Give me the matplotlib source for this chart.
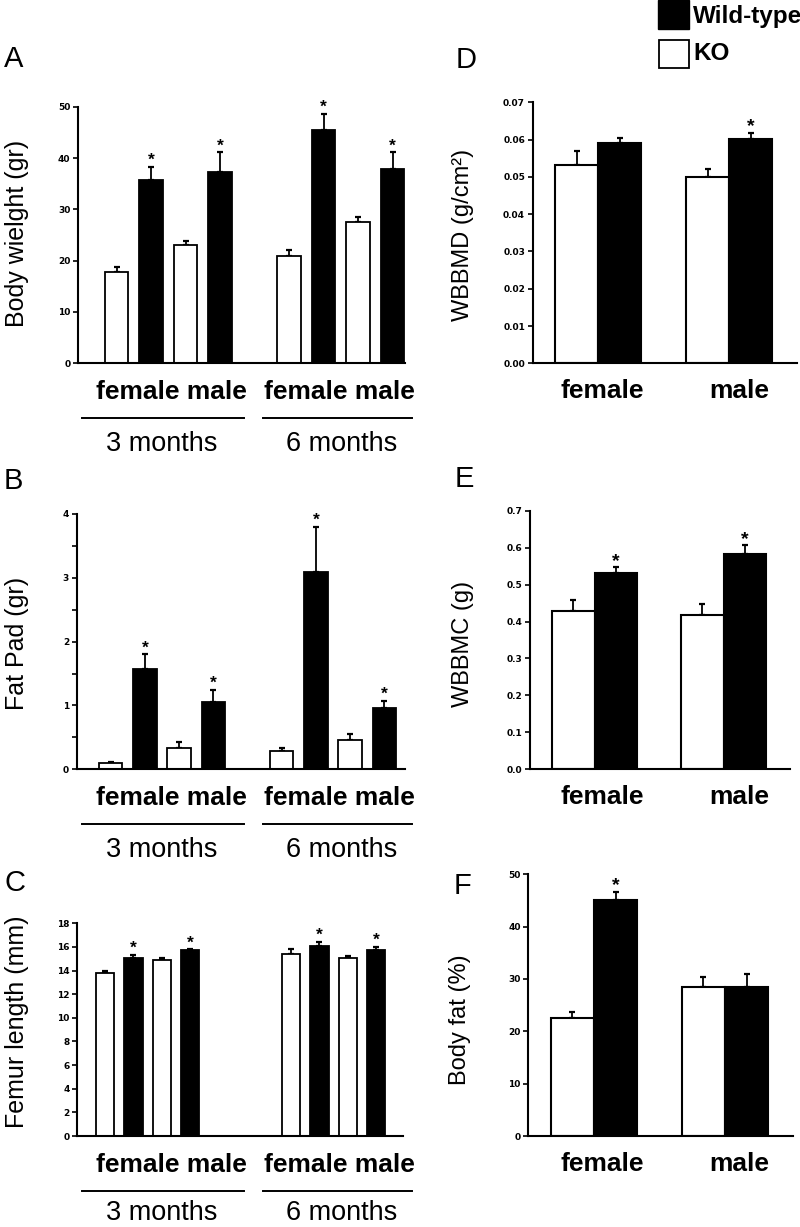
import numpy as np
import matplotlib
matplotlib.use("Agg")
import matplotlib.pyplot as plt
from matplotlib.patches import Rectangle
from matplotlib.lines import Line2D
from matplotlib.ticker import MultipleLocator

plt.rcParams["font.family"] = ["Liberation Sans", "DejaVu Sans"]

W, H = 800, 1227

# left column: order is female 3mo, male 3mo, female 6mo, male 6mo
ko_weight = [17.7, 23.0, 20.9, 27.6]
ko_weight_sem = [1.0, 0.8, 1.2, 1.0]
wt_weight = [35.7, 37.3, 45.5, 37.8]
wt_weight_sem = [2.5, 3.8, 3.1, 3.3]
wt_weight_sig = [True, True, True, True]

ko_fatpad = [0.10, 0.34, 0.29, 0.46]
ko_fatpad_sem = [0.01, 0.08, 0.05, 0.09]
wt_fatpad = [1.57, 1.05, 3.09, 0.96]
wt_fatpad_sem = [0.23, 0.20, 0.71, 0.11]
wt_fatpad_sig = [True, True, True, True]

ko_femur = [13.8, 14.86, 15.4, 15.06]
ko_femur_sem = [0.2, 0.2, 0.4, 0.15]
wt_femur = [15.1, 15.7, 16.05, 15.76]
wt_femur_sem = [0.2, 0.1, 0.35, 0.25]
wt_femur_sig = [True, True, True, True]

# right column: female, male
sexes = ["female", "male"]
ko_bmd = [0.0531, 0.0499]
ko_bmd_sem = [0.0039, 0.0021]
wt_bmd = [0.0591, 0.0601]
wt_bmd_sem = [0.0013, 0.0018]
wt_bmd_sig = [False, True]

ko_bmc = [0.428, 0.419]
ko_bmc_sem = [0.030, 0.028]
wt_bmc = [0.532, 0.582]
wt_bmc_sem = [0.015, 0.025]
wt_bmc_sig = [True, True]

ko_bodyfat = [22.5, 28.4]
ko_bodyfat_sem = [1.1, 1.9]
wt_bodyfat = [45.1, 28.5]
wt_bodyfat_sem = [1.6, 2.5]
wt_bodyfat_sig = [True, False]

ages = ["3 months", "6 months"]

fig = plt.figure(figsize=(W / 100, H / 100), dpi=100)


def px_axes(l, r, t, b):
    return fig.add_axes([l / W, 1 - b / H, (r - l) / W, (b - t) / H])


def ftext(x, y, s, **kw):
    fig.text(x / W, 1 - y / H, s, **kw)


def style(ax, xlim, ylim, ticks, labels):
    ax.set_xlim(*xlim)
    ax.set_ylim(*ylim)
    for s in ("top", "right"):
        ax.spines[s].set_visible(False)
    for s in ("left", "bottom"):
        ax.spines[s].set_linewidth(1.5)
    ax.set_xticks([])
    ax.set_yticks(ticks, labels=labels, fontfamily="DejaVu Sans",
                  fontweight="bold", fontsize=6.5)
    ax.tick_params(axis="y", direction="out", length=3.5, width=1.2, pad=2)
    ax.patch.set_alpha(0)


def bars(ax, xk, xw, width, ko, ko_sem, wt, wt_sem, sig, lw, star_fs, star_dy):
    ax.bar(xk, ko, width, color="white", edgecolor="black", linewidth=lw, zorder=2)
    ax.bar(xw, wt, width, color="black", edgecolor="black", linewidth=lw, zorder=2)
    for x, m, e in [(xk, ko, ko_sem), (xw, wt, wt_sem)]:
        ax.errorbar(x, m, yerr=[np.zeros(len(m)), e], fmt="none", ecolor="black",
                    elinewidth=1.3, capsize=2.5, capthick=1.6, zorder=1)
    for x, m, e, s in zip(xw, wt, wt_sem, sig):
        if s:
            ax.annotate("*", (x, m + e), xytext=(0, star_dy), textcoords="offset pixels",
                        ha="center", va="baseline", fontsize=star_fs, fontweight="bold")


# ---- left column (A, B, C)
left_specs = [
    ((78, 405, 106.7, 363.3), (ko_weight, ko_weight_sem, wt_weight, wt_weight_sem, wt_weight_sig),
     (0, 50), np.arange(0, 51, 10), [str(v) for v in range(0, 51, 10)],
     "Body wielght (gr)", (116.5, 34.5), 2.0, 0.67, "A", (14, 59), 233, 81),
    ((76.7, 405, 514, 769.3), (ko_fatpad, ko_fatpad_sem, wt_fatpad, wt_fatpad_sem, wt_fatpad_sig),
     (0, 4), np.arange(0, 5), [str(v) for v in range(5)],
     "Fat Pad (gr)", (110.7, 34.2), 2.0, 0.69, "B", (13, 481), 643, 81),
    ((77.3, 403, 923.3, 1136), (ko_femur, ko_femur_sem, wt_femur, wt_femur_sem, wt_femur_sig),
     (0, 18), np.arange(0, 19, 2), [str(v) for v in range(0, 19, 2)],
     "Femur length (mm)", (105, 28.4), 3.55, 0.645, "C", (15, 883), 1022, 77),
]

for rect, data, ylim, ticks, labels, ylabel, (x0, sp), gap, width, letter, lpos, ylab_y, age_dy in left_specs:
    l, r, t, b = rect
    ax = px_axes(l, r, t, b)
    ko, ko_sem, wt, wt_sem, sig = data
    idx = np.arange(4)
    group = idx // 2
    xk = idx * 2 + group * (gap - 1)
    xw = xk + 1
    bars(ax, xk, xw, width, ko, ko_sem, wt, wt_sem, sig, 1.3, 12.5, 2)
    style(ax, ((l - x0) / sp, (r - x0) / sp), ylim, ticks, labels)
    if letter == "B":
        ax.yaxis.set_minor_locator(MultipleLocator(0.5))
        ax.tick_params(axis="y", which="minor", direction="out", length=3.5, width=1.2)
    ftext(*lpos, letter, fontsize=21, ha="center", va="center")
    ftext(17, ylab_y, ylabel, fontsize=18, rotation=90, ha="center", va="center")
    # group labels under axis
    for gx, lx0, lx1, age_x, age in [(171.5, 81.7, 244.3, 162, ages[0]),
                                     (339, 263.3, 412, 342, ages[1])]:
        ftext(gx, b + 28.5, "female male", fontsize=19, fontweight="bold",
              ha="center", va="center")
        fig.add_artist(Line2D([lx0 / W, lx1 / W], [1 - (b + 55) / H] * 2,
                              color="black", lw=1.4))
        ftext(age_x, b + age_dy, age, fontsize=19.5, ha="center", va="center")

# ---- right column (D, E, F)
right_specs = [
    ((532.7, 796.7, 102.3, 363.3), (ko_bmd, ko_bmd_sem, wt_bmd, wt_bmd_sem, wt_bmd_sig),
     (0, 0.07), np.arange(8) * 0.01, ["%.2f" % (v * 0.01) for v in range(8)],
     "WBBMD (g/cm²)", "D", (466, 60), (463, 235)),
    ((530, 790, 510.7, 769.3), (ko_bmc, ko_bmc_sem, wt_bmc, wt_bmc_sem, wt_bmc_sig),
     (0, 0.7), np.arange(8) * 0.1, ["%.1f" % (v * 0.1) for v in range(8)],
     "WBBMC (g)", "E", (464, 479), (463, 644)),
    ((528.3, 792.7, 874.3, 1136), (ko_bodyfat, ko_bodyfat_sem, wt_bodyfat, wt_bodyfat_sem, wt_bodyfat_sig),
     (0, 50), np.arange(0, 51, 10), [str(v) for v in range(0, 51, 10)],
     "Body fat (%)", "F", (463, 886), (460, 1020)),
]

for rect, data, ylim, ticks, labels, ylabel, letter, lpos, ylpos in right_specs:
    l, r, t, b = rect
    ax = px_axes(l, r, t, b)
    ko, ko_sem, wt, wt_sem, sig = data
    pos = np.arange(2)
    w = 0.33
    bars(ax, pos - w / 2, pos + w / 2, w, ko, ko_sem, wt, wt_sem, sig, 1.5, 14, 1)
    style(ax, (-0.5, 1.515), ylim, ticks, labels)
    ftext(*lpos, letter, fontsize=21, ha="center", va="center")
    ftext(*ylpos, ylabel, fontsize=17, rotation=90, ha="center", va="center")
    for sx, s in zip((602, 739), sexes):
        ftext(sx, b + 28, s, fontsize=19, fontweight="bold", ha="center", va="center")

# ---- legend (top right)
fig.add_artist(Rectangle((658 / W, 1 - 29 / H), 31 / W, 29 / H, facecolor="black",
                         edgecolor="black", transform=fig.transFigure))
fig.add_artist(Rectangle((659 / W, 1 - 68 / H), 30 / W, 28 / H, facecolor="white",
                         edgecolor="black", lw=1.3, transform=fig.transFigure))
ftext(693, 16, "Wild-type", fontsize=17.5, fontweight="bold", ha="left", va="center")
ftext(693, 54, "KO", fontsize=17.5, fontweight="bold", ha="left", va="center")

fig.savefig("out.png", dpi=100)
